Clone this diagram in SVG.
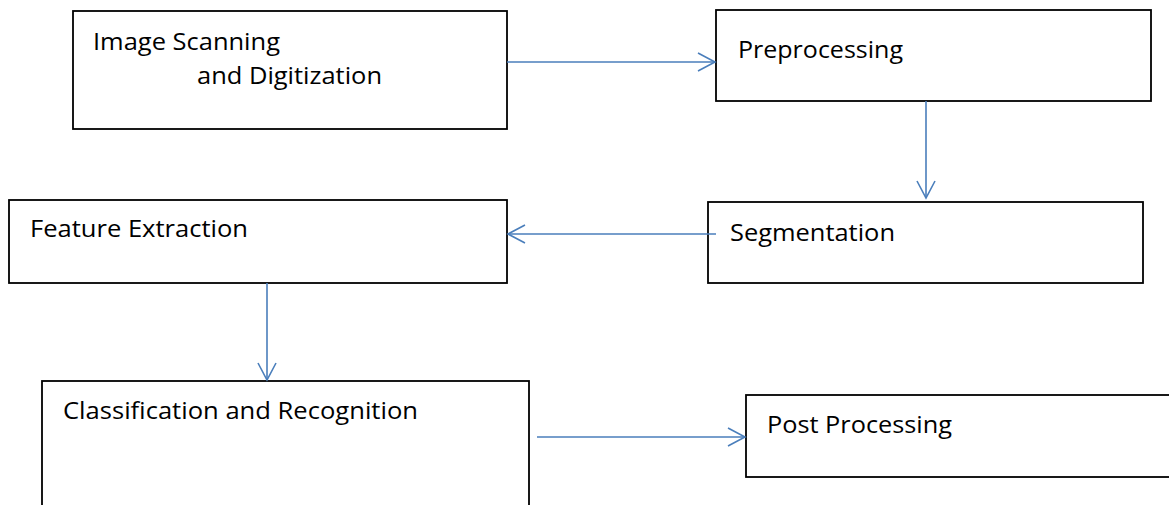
<svg xmlns="http://www.w3.org/2000/svg" width="1169" height="505" viewBox="0 0 1169 505">
<style>
.box{fill:#fff;stroke:#000;stroke-width:1.8}
.lbl{font-family:"Open Sans","Liberation Sans",sans-serif;font-size:24px;fill:#000}
.con{stroke:#4a7ebb;stroke-width:1.6;fill:none}
</style>
<defs>
<marker id="ah" viewBox="0 0 20 20" refX="18" refY="10" markerWidth="20" markerHeight="20" markerUnits="userSpaceOnUse" orient="auto">
<path d="M1,1 L18,10 L1,19" fill="none" stroke="#4a7ebb" stroke-width="1.6"/>
</marker>
</defs>
<rect width="1169" height="505" fill="#fff"/>
<g id="n1"><rect class="box" x="73" y="11" width="434" height="118"/>
<text class="lbl" x="93" y="50" textLength="187" lengthAdjust="spacingAndGlyphs">Image Scanning</text>
<text class="lbl" x="197" y="84" textLength="185" lengthAdjust="spacingAndGlyphs">and Digitization</text></g>
<g id="n2"><rect class="box" x="716" y="10" width="435" height="91"/>
<text class="lbl" x="738" y="58" textLength="165" lengthAdjust="spacingAndGlyphs">Preprocessing</text></g>
<g id="n3"><rect class="box" x="708" y="202" width="435" height="81"/>
<text class="lbl" x="730" y="241" textLength="165" lengthAdjust="spacingAndGlyphs">Segmentation</text></g>
<g id="n4"><rect class="box" x="9" y="200" width="498" height="83"/>
<text class="lbl" x="30" y="237" textLength="218" lengthAdjust="spacingAndGlyphs">Feature Extraction</text></g>
<g id="n5"><rect class="box" x="42" y="381" width="487" height="130"/>
<text class="lbl" x="63" y="419" textLength="355" lengthAdjust="spacingAndGlyphs">Classification and Recognition</text></g>
<g id="n6"><rect class="box" x="746" y="395" width="430" height="82"/>
<text class="lbl" x="767" y="433" textLength="185" lengthAdjust="spacingAndGlyphs">Post Processing</text></g>
<g id="connectors">
<line class="con" x1="507" y1="62" x2="715" y2="62" marker-end="url(#ah)"/>
<line class="con" x1="926" y1="101" x2="926" y2="198" marker-end="url(#ah)"/>
<line class="con" x1="716" y1="234" x2="508" y2="234" marker-end="url(#ah)"/>
<line class="con" x1="267" y1="283" x2="267" y2="380" marker-end="url(#ah)"/>
<line class="con" x1="537" y1="437" x2="745" y2="437" marker-end="url(#ah)"/>
</g>
</svg>
